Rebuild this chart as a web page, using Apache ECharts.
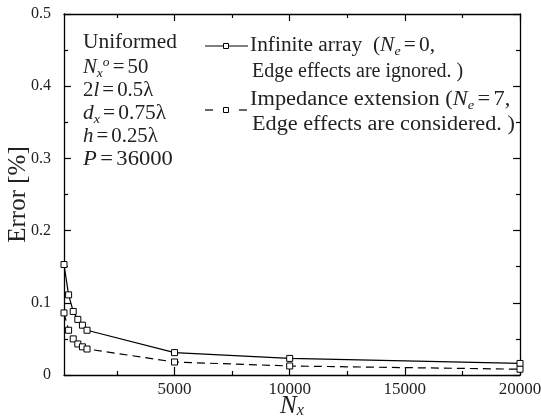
<!DOCTYPE html>
<html>
<head>
<meta charset="utf-8">
<script src="https://cdn.jsdelivr.net/npm/echarts@6/dist/echarts.min.js"></script>
<style>
html,body{margin:0;padding:0;background:#fff;}
#c{width:541px;height:420px;}
</style>
</head>
<body>
<div id="c"></div>
<script>
// ---- data ----
var nx = [200, 400, 600, 800, 1000, 1200, 5000, 10000, 20000];
var infiniteArray = [0.153, 0.111, 0.088, 0.077, 0.069, 0.062, 0.031, 0.023, 0.016];
var impedanceExt = [0.086, 0.062, 0.050, 0.043, 0.039, 0.036, 0.018, 0.0125, 0.008];
var xMajorTicks = [5000, 10000, 15000, 20000];
var xMinorTicks = [2500, 7500, 12500, 17500];
var seriesNames = ['Infinite array', 'Impedance extension'];

var FONT = 'Liberation Serif';

function pairs(xs, ys) { return xs.map(function (x, i) { return [x, ys[i]]; }); }

var chart = echarts.init(document.getElementById('c'), null, {renderer: 'canvas'});

var xBase = {type: 'value', min: 200, max: 20000, gridIndex: 0, splitLine: {show: false}};
function xAxisDef(pos, ticks, len, showLine, showLabel) {
  return Object.assign({}, xBase, {
    position: pos,
    axisLine: {show: showLine, onZero: false, lineStyle: {color: '#000', width: 1.3}},
    axisTick: {show: true, inside: true, length: len, customValues: ticks, lineStyle: {color: '#000', width: 1.2}},
    axisLabel: showLabel ? {show: true, customValues: xMajorTicks, color: '#222', fontFamily: FONT, fontSize: 17, margin: 6,
      formatter: function (v) { return String(v); }} : {show: false}
  });
}
function yAxisDef(pos, showLabel) {
  return {
    type: 'value', min: 0, max: 0.5, interval: 0.1, position: pos,
    splitLine: {show: false},
    axisLine: {show: true, onZero: false, lineStyle: {color: '#000', width: 1.3}},
    axisTick: {show: true, inside: true, length: 7, lineStyle: {color: '#000', width: 1.2}},
    minorTick: {show: true, splitNumber: 2, length: 4, lineStyle: {color: '#000', width: 1.2}},
    axisLabel: showLabel ? {show: true, color: '#222', fontFamily: FONT, fontSize: 16, margin: 13,
      formatter: function (v) { return v === 0 ? '0' : v.toFixed(1); }} : {show: false},
    name: showLabel ? 'Error [%]' : '',
    nameLocation: 'middle', nameRotate: 90, nameGap: 33, nameMoveOverlap: false,
    nameTextStyle: {color: '#222', fontFamily: FONT, fontSize: 25}
  };
}

var xAxes = [
  xAxisDef('bottom', xMajorTicks, 8, true, true),
  xAxisDef('bottom', xMinorTicks, 4, false, false),
  xAxisDef('top', xMajorTicks, 7, true, false),
  xAxisDef('top', xMinorTicks, 4, false, false)
];
xAxes[0].name = '{n|N}{s|x}';
xAxes[0].nameLocation = 'middle';
xAxes[0].nameGap = 18;
xAxes[0].nameMoveOverlap = false;
xAxes[0].nameTextStyle = {
  rich: {
    n: {fontFamily: FONT, fontStyle: 'italic', fontSize: 25, color: '#222', lineHeight: 26},
    s: {fontFamily: FONT, fontStyle: 'italic', fontSize: 16, color: '#222', lineHeight: 12, verticalAlign: 'bottom'}
  }
};

var FN = '20px "Liberation Serif"';
var FI = 'italic 20px "Liberation Serif"';
var FS = 'italic 13px "Liberation Serif"';
var ri = {
  t: {font: FN, fill: '#222', lineHeight: 24},
  i: {font: FI, fill: '#222', lineHeight: 24},
  eq: {font: FN, fill: '#222', lineHeight: 24, padding: [0, 3, 0, 3]},
  sub: {font: FS, fill: '#222', lineHeight: 12, verticalAlign: 'bottom'},
  sup: {font: FS, fill: '#222', lineHeight: 12, verticalAlign: 'top'}
};
function txt(x, y, s, sx) {
  return {type: 'text', left: x, top: y, z: 10, silent: true, scaleX: sx || 1,
    style: {text: s, rich: ri, font: FN, fill: '#222'}};
}

var leftX = 83;
var graphics = [
  txt(leftX, 33, '{t|Uniformed}', 1.07),
  txt(leftX, 56, '{i|N}{sub|x}{sup|o}{eq|=}{t|50}', 1.04),
  txt(leftX, 81, '{t|2}{i|l}{eq|=}{t|0.5λ}', 1.04),
  txt(leftX, 104, '{i|d}{sub|x}{eq|=}{t|0.75λ}', 1.07),
  txt(leftX, 127, '{i|h}{eq|=}{t|0.25λ}', 1.04),
  txt(leftX, 150, '{i|P}{eq|=}{t|36000}', 1.13),
  txt(250, 36, '{t|Infinite array  (}{i|N}{sub|e}{eq|=}{t|0,}', 1.07),
  txt(252, 62, '{t|Edge effects are ignored. )}', 1.0),
  txt(250, 90, '{t|Impedance extension (}{i|N}{sub|e}{eq|=}{t|7,}', 1.12),
  txt(252, 115, '{t|Edge effects are considered. )}', 1.11),
  // legend keys
  {type: 'line', silent: true, shape: {x1: 205, y1: 46, x2: 248, y2: 46}, style: {stroke: '#000', lineWidth: 1.2}},
  {type: 'rect', silent: true, shape: {x: 223.5, y: 43.5, width: 5, height: 5}, style: {fill: '#fff', stroke: '#000', lineWidth: 1}, z: 11},
  {type: 'line', silent: true, shape: {x1: 205, y1: 110, x2: 213, y2: 110}, style: {stroke: '#000', lineWidth: 1.2}},
  {type: 'line', silent: true, shape: {x1: 239, y1: 110, x2: 247, y2: 110}, style: {stroke: '#000', lineWidth: 1.2}},
  {type: 'rect', silent: true, shape: {x: 223.5, y: 107.5, width: 5, height: 5}, style: {fill: '#fff', stroke: '#000', lineWidth: 1}, z: 11}
];

var option = {
  backgroundColor: '#fff',
  animation: false,
  grid: {left: 64, right: 21, top: 14, bottom: 45, containLabel: false, outerBoundsMode: 'none'},
  xAxis: xAxes,
  yAxis: [yAxisDef('left', true), yAxisDef('right', false)],
  series: [
    {
      name: seriesNames[0], type: 'line', xAxisIndex: 0, yAxisIndex: 0,
      data: pairs(nx, infiniteArray),
      symbol: 'rect', symbolSize: 6, showAllSymbol: true,
      lineStyle: {color: '#000', width: 1.2, type: 'solid'},
      itemStyle: {color: '#fff', borderColor: '#000', borderWidth: 1},
      z: 3
    },
    {
      name: seriesNames[1], type: 'line', xAxisIndex: 0, yAxisIndex: 0,
      data: pairs(nx, impedanceExt),
      symbol: 'rect', symbolSize: 6, showAllSymbol: true,
      lineStyle: {color: '#000', width: 1.2, type: [8, 5]},
      itemStyle: {color: '#fff', borderColor: '#000', borderWidth: 1},
      z: 3
    }
  ],
  graphic: graphics
};
chart.setOption(option);
</script>
</body>
</html>
